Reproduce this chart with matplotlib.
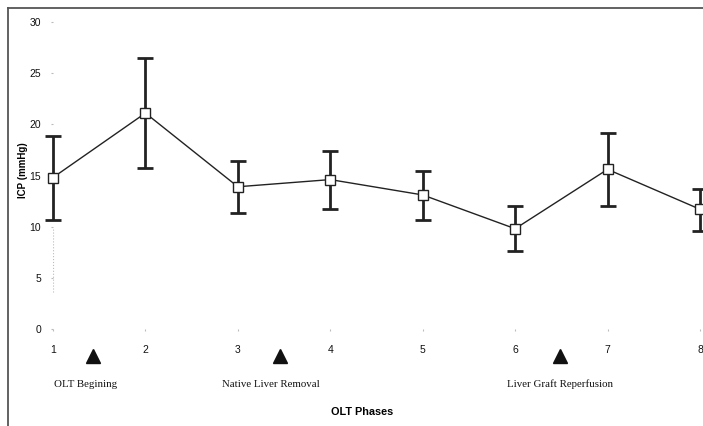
import numpy as np
import matplotlib.pyplot as plt
from matplotlib.lines import Line2D

# data
phases = [1, 2, 3, 4, 5, 6, 7, 8]
icp_mean = [14.8, 21.1, 13.9, 14.6, 13.1, 9.8, 15.6, 11.7]
icp_upper = [18.9, 26.5, 16.4, 17.4, 15.4, 12.0, 19.2, 13.7]
icp_lower = [10.7, 15.7, 11.3, 11.7, 10.7, 7.6, 12.0, 9.6]

event_pos = [1.43, 3.46, 6.49]
event_labels = ['OLT Begining', 'Native Liver Removal', 'Liver Graft Reperfusion']
event_label_x = [1.35, 3.36, 6.49]

mean = np.array(icp_mean)
yerr = [mean - np.array(icp_lower), np.array(icp_upper) - mean]

fig = plt.figure(figsize=(7.03, 4.26), dpi=100)
ax = fig.add_axes([53 / 703, 97 / 426, 650 / 703, 307 / 426])

# error bars (thick) then line with open squares
eb = ax.errorbar(phases, icp_mean, yerr=yerr, fmt='none', ecolor='#222222',
                 elinewidth=2, capsize=6, capthick=2, zorder=2)
for art in eb.get_children():
    art.set_clip_on(False)
ax.plot(phases, icp_mean, '-', color='#222222', lw=1, marker='s', ms=7,
        mfc='white', mec='#222222', mew=1, zorder=3, clip_on=False)

# faint dotted segment near the y axis
ax.plot([1, 1], [3.6, 9.8], ls=':', color='#bbbbbb', lw=0.8, zorder=1)

ax.set_xlim(1, 1 + 650 / 92.43)
ax.set_ylim(0, 30)
ax.set_xticks(phases)
ax.set_yticks(range(0, 31, 5))
for s in ax.spines.values():
    s.set_visible(False)
ax.tick_params(axis='both', length=1.5, color='#bbbbbb', labelsize=7.5,
               labelcolor='#111111')
ax.tick_params(axis='x', pad=10)
ax.tick_params(axis='y', pad=7)
for lbl in ax.get_xticklabels() + ax.get_yticklabels():
    lbl.set_family('Liberation Sans')

# event markers and labels below the axis
ax.plot(event_pos, [-2.65] * 3, '^', color='#111111', ms=10, clip_on=False)
for x, t in zip(event_label_x, event_labels):
    ax.text(x, -5.4, t, ha='center', va='center', fontsize=7.8,
            family='Liberation Serif', color='#111111', clip_on=False)

ax.set_ylabel('ICP (mmHg)', fontsize=7, fontweight='bold', family='Liberation Sans')
ax.yaxis.set_label_coords(-0.038, 0.518)
fig.text(362 / 703, 1 - 412 / 426, 'OLT Phases', ha='center', va='center',
         fontsize=7.8, fontweight='bold', family='Liberation Sans')

# outer frame (left and top edges)
fig.add_artist(Line2D([8 / 703, 8 / 703], [0, 1 - 8 / 426], color='#555555', lw=1.3))
fig.add_artist(Line2D([8 / 703, 1], [1 - 8 / 426, 1 - 8 / 426], color='#555555', lw=1.3))

fig.savefig('out.png', dpi=100)
